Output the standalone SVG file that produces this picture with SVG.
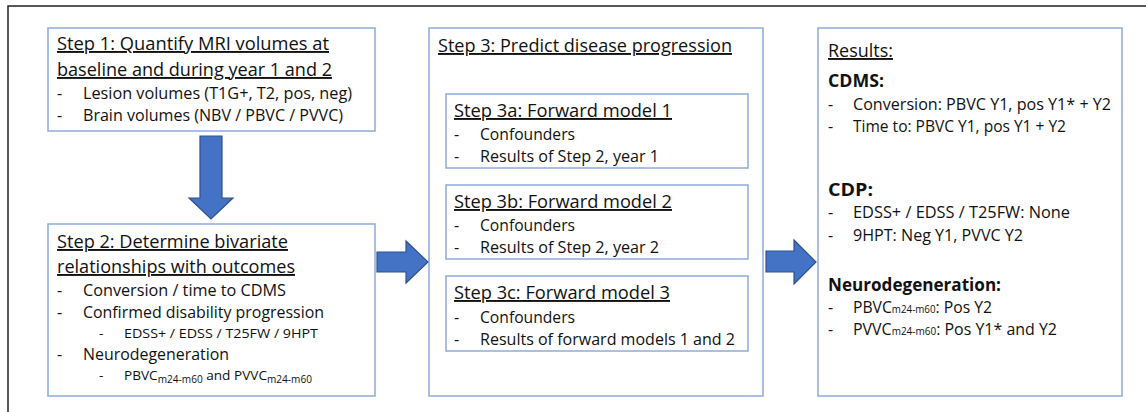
<svg xmlns="http://www.w3.org/2000/svg" width="1146" height="412" viewBox="0 0 1146 412">
<style>
.box{fill:#fff;stroke:#8FAADC;stroke-width:1.5}
.frame{fill:none;stroke:#222;stroke-width:1.5}
.arrow{fill:#4472C4;stroke:#2F528F;stroke-width:1.2;stroke-linejoin:miter}
text{font-family:"Open Sans","Noto Sans",sans-serif;fill:#111}
.t{font-size:19px;text-decoration:underline}
.l{font-size:16px}
.s{font-size:13.5px}
.b{font-size:18px;font-weight:bold}
.sub{font-size:10px}
</style>
<path class="frame" d="M8,412 V6 H1146"/>
<g id="step1">
<rect class="box" x="48" y="28" width="327" height="103"/>
<text class="t" x="57" y="50" textLength="272" lengthAdjust="spacingAndGlyphs">Step 1: Quantify MRI volumes at</text>
<text class="t" x="57" y="76" textLength="275" lengthAdjust="spacingAndGlyphs">baseline and during year 1 and 2</text>
<text class="l" x="57" y="99">-</text>
<text class="l" x="83" y="99" textLength="269" lengthAdjust="spacingAndGlyphs">Lesion volumes (T1G+, T2, pos, neg)</text>
<text class="l" x="57" y="121">-</text>
<text class="l" x="83" y="121" textLength="260" lengthAdjust="spacingAndGlyphs">Brain volumes (NBV / PBVC / PVVC)</text>
</g>
<g id="step2">
<rect class="box" x="48" y="224" width="327" height="172"/>
<text class="t" x="57" y="248" textLength="231" lengthAdjust="spacingAndGlyphs">Step 2: Determine bivariate</text>
<text class="t" x="57" y="273" textLength="238" lengthAdjust="spacingAndGlyphs">relationships with outcomes</text>
<text class="l" x="57" y="296">-</text>
<text class="l" x="83" y="296" textLength="203" lengthAdjust="spacingAndGlyphs">Conversion / time to CDMS</text>
<text class="l" x="57" y="318">-</text>
<text class="l" x="83" y="318" textLength="241" lengthAdjust="spacingAndGlyphs">Confirmed disability progression</text>
<text class="s" x="99" y="338">-</text>
<text class="s" x="124" y="338" textLength="194" lengthAdjust="spacingAndGlyphs">EDSS+ / EDSS / T25FW / 9HPT</text>
<text class="l" x="57" y="360">-</text>
<text class="l" x="83" y="360" textLength="146" lengthAdjust="spacingAndGlyphs">Neurodegeneration</text>
<text class="s" x="99" y="380">-</text>
<text class="s" x="124" y="380" textLength="188" lengthAdjust="spacingAndGlyphs">PBVC<tspan class="sub" dy="3">m24-m60</tspan><tspan dy="-3"> and PVVC</tspan><tspan class="sub" dy="3">m24-m60</tspan></text>
</g>
<g id="step3">
<rect class="box" x="429" y="28" width="334" height="368"/>
<text class="t" x="438" y="52" textLength="294" lengthAdjust="spacingAndGlyphs">Step 3: Predict disease progression</text>
</g>
<g id="step3a">
<rect class="box" x="446" y="94" width="302" height="74"/>
<text class="t" x="454" y="117" textLength="218" lengthAdjust="spacingAndGlyphs">Step 3a: Forward model 1</text>
<text class="l" x="454" y="140">-</text>
<text class="l" x="480" y="140" textLength="95" lengthAdjust="spacingAndGlyphs">Confounders</text>
<text class="l" x="454" y="162">-</text>
<text class="l" x="480" y="162" textLength="179" lengthAdjust="spacingAndGlyphs">Results of Step 2, year 1</text>
</g>
<g id="step3b">
<rect class="box" x="446" y="185" width="302" height="74"/>
<text class="t" x="454" y="208" textLength="218" lengthAdjust="spacingAndGlyphs">Step 3b: Forward model 2</text>
<text class="l" x="454" y="231">-</text>
<text class="l" x="480" y="231" textLength="95" lengthAdjust="spacingAndGlyphs">Confounders</text>
<text class="l" x="454" y="253">-</text>
<text class="l" x="480" y="253" textLength="179" lengthAdjust="spacingAndGlyphs">Results of Step 2, year 2</text>
</g>
<g id="step3c">
<rect class="box" x="446" y="276" width="302" height="75"/>
<text class="t" x="454" y="299" textLength="216" lengthAdjust="spacingAndGlyphs">Step 3c: Forward model 3</text>
<text class="l" x="454" y="323">-</text>
<text class="l" x="480" y="323" textLength="95" lengthAdjust="spacingAndGlyphs">Confounders</text>
<text class="l" x="454" y="345">-</text>
<text class="l" x="480" y="345" textLength="255" lengthAdjust="spacingAndGlyphs">Results of forward models 1 and 2</text>
</g>
<g id="results">
<rect class="box" x="818" y="28" width="304" height="368"/>
<text class="t" x="828" y="57" textLength="65" lengthAdjust="spacingAndGlyphs">Results:</text>
<text class="b" x="828" y="87" textLength="56" lengthAdjust="spacingAndGlyphs">CDMS:</text>
<text class="l" x="828" y="110">-</text>
<text class="l" x="853" y="110" textLength="258" lengthAdjust="spacingAndGlyphs">Conversion: PBVC Y1, pos Y1* + Y2</text>
<text class="l" x="828" y="132">-</text>
<text class="l" x="853" y="132" textLength="213" lengthAdjust="spacingAndGlyphs">Time to: PBVC Y1, pos Y1 + Y2</text>
<text class="b" x="828" y="196" textLength="45" lengthAdjust="spacingAndGlyphs">CDP:</text>
<text class="l" x="828" y="218">-</text>
<text class="l" x="853" y="218" textLength="217" lengthAdjust="spacingAndGlyphs">EDSS+ / EDSS / T25FW: None</text>
<text class="l" x="828" y="241">-</text>
<text class="l" x="853" y="241" textLength="170" lengthAdjust="spacingAndGlyphs">9HPT: Neg Y1, PVVC Y2</text>
<text class="b" x="828" y="291" textLength="173" lengthAdjust="spacingAndGlyphs">Neurodegeneration:</text>
<text class="l" x="828" y="313">-</text>
<text class="l" x="853" y="313" textLength="139" lengthAdjust="spacingAndGlyphs">PBVC<tspan class="sub">m24-m60</tspan>: Pos Y2</text>
<text class="l" x="828" y="335">-</text>
<text class="l" x="853" y="335" textLength="204" lengthAdjust="spacingAndGlyphs">PVVC<tspan class="sub">m24-m60</tspan>: Pos Y1* and Y2</text>
</g>
<g id="connectors">
<path class="arrow" d="M200,136 H222 V198 H233 L211,219 L189,198 H200 Z"/>
<path class="arrow" d="M377,252 H406 V241 L428,262 L406,283 V272 H377 Z"/>
<path class="arrow" d="M766,251 H794 V240 L816,262 L794,284 V272 H766 Z"/>
</g>
</svg>
